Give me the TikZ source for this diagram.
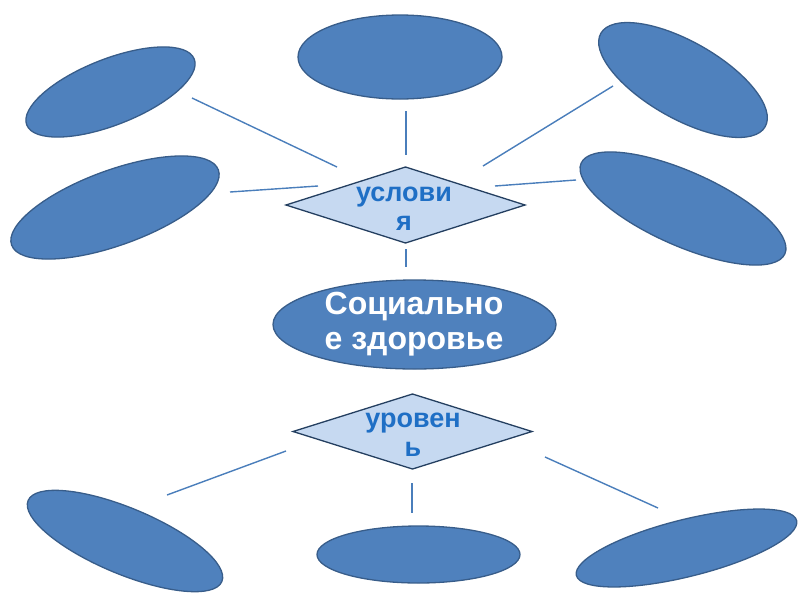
\documentclass[tikz,border=0pt]{standalone}
\usepackage{fontspec}
\setmainfont{Liberation Sans}
\usetikzlibrary{shapes.geometric}
\definecolor{ellfill}{HTML}{4F81BD}
\definecolor{elldraw}{HTML}{385D8A}
\definecolor{linkcol}{HTML}{4A7EBB}
\definecolor{diafill}{HTML}{C6D9F1}
\definecolor{diadraw}{HTML}{243F60}
\definecolor{diatext}{HTML}{1F6FC5}
\tikzset{
  oval/.style={ellipse, draw=elldraw, fill=ellfill, line width=1.3pt, inner sep=0pt, outer sep=0pt},
  dia/.style={diamond, draw=diadraw, fill=diafill, line width=1.3pt, inner sep=0pt, outer sep=0pt},
  diatxt/.style={text=diatext, font=\bfseries\fontsize{27}{29}\selectfont, align=center, inner sep=0pt},
  maintxt/.style={text=white, font=\bfseries\fontsize{32}{35}\selectfont, align=center, inner sep=0pt},
  link/.style={draw=linkcol, line width=1.4pt}
}
\begin{document}
\begin{tikzpicture}[x=1pt,y=-1pt]
\useasboundingbox (0,0) rectangle (800,600);
% ovals
\node[oval, minimum width=180pt, minimum height=66pt, rotate=21.5] (tl) at (110.5,92) {};
\node[oval, minimum width=220pt, minimum height=75pt, rotate=20] (ml) at (115,207.5) {};
\node[oval, minimum width=204pt, minimum height=84pt] (tc) at (400,57) {};
\node[oval, minimum width=189pt, minimum height=77pt, rotate=-29.6] (tr) at (683,80) {};
\node[oval, minimum width=223pt, minimum height=74pt, rotate=-24] (mr) at (683,208.5) {};
\node[oval, minimum width=283pt, minimum height=89pt] (soc) at (414.5,324.5) {};
\node[oval, minimum width=210pt, minimum height=66pt, rotate=-22.7] (bl) at (125,541) {};
\node[oval, minimum width=203pt, minimum height=57pt] (bc) at (418.5,554.5) {};
\node[oval, minimum width=227pt, minimum height=57pt, rotate=14] (br) at (686.5,548) {};
% diamonds
\node[dia, minimum width=239pt, minimum height=76pt] (d1) at (405.5,205) {};
\node[dia, minimum width=239pt, minimum height=75pt] (d2) at (412.5,431.5) {};
% texts
\node[diatxt] (t1) at (404,209) {услови\\я};
\node[diatxt] (t2) at (413,435) {уровен\\ь};
\node[maintxt] (t3) at (414,324) {Социально\\е здоровье};
% connector ends
\coordinate (tlA) at (192,98);   \coordinate (tlB) at (337,167);
\coordinate (mlA) at (230,192);  \coordinate (mlB) at (318,186);
\coordinate (tcA) at (406,111);  \coordinate (tcB) at (406,155);
\coordinate (trA) at (613,86);   \coordinate (trB) at (483,166);
\coordinate (mrA) at (576,180);  \coordinate (mrB) at (495,186);
\coordinate (dsA) at (406,249);  \coordinate (dsB) at (406,267);
\coordinate (blA) at (167,495);  \coordinate (blB) at (286,451);
\coordinate (bcA) at (412,483);  \coordinate (bcB) at (412,513);
\coordinate (brA) at (658,508);  \coordinate (brB) at (545,457);
% connectors
\draw[link] (tlA) -- (tlB);
\draw[link] (mlA) -- (mlB);
\draw[link] (tcA) -- (tcB);
\draw[link] (trA) -- (trB);
\draw[link] (mrA) -- (mrB);
\draw[link] (dsA) -- (dsB);
\draw[link] (blA) -- (blB);
\draw[link] (bcA) -- (bcB);
\draw[link] (brA) -- (brB);
\end{tikzpicture}
\end{document}
